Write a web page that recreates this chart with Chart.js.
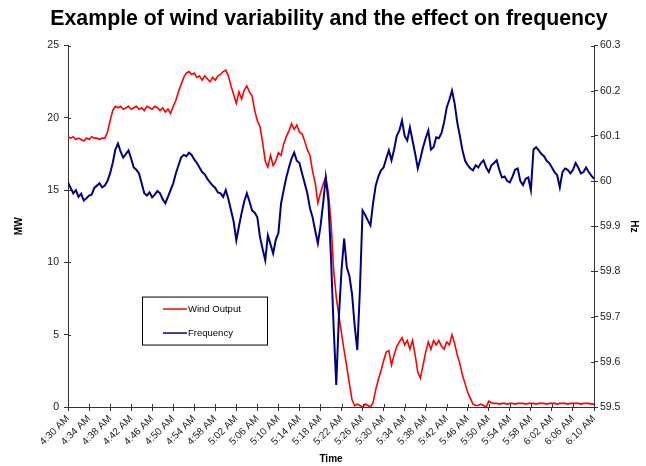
<!DOCTYPE html>
<html>
<head>
<meta charset="utf-8">
<script src="https://cdn.jsdelivr.net/npm/chart.js@4"></script>
<style>
  html, body { margin: 0; padding: 0; background: #fff; }
  #wrap { width: 646px; height: 466px; }
</style>
</head>
<body>
<div id="wrap"><canvas id="windChart"></canvas></div>
<script>
// one sample every 30 s from 4:30 AM to 6:10 AM
const tickLabels = ['4:30 AM','4:34 AM','4:38 AM','4:42 AM','4:46 AM','4:50 AM','4:54 AM','4:58 AM',
  '5:02 AM','5:06 AM','5:10 AM','5:14 AM','5:18 AM','5:22 AM','5:26 AM','5:30 AM','5:34 AM',
  '5:38 AM','5:42 AM','5:46 AM','5:50 AM','5:54 AM','5:58 AM','6:02 AM','6:06 AM','6:10 AM'];

const windMW = [
  18.7, 18.6, 18.7, 18.5, 18.6, 18.5, 18.4, 18.6, 18.5, 18.7,
  18.6, 18.6, 18.5, 18.6, 18.6, 19.0, 19.8, 20.5, 20.8, 20.7,
  20.8, 20.6, 20.7, 20.8, 20.6, 20.7, 20.8, 20.6, 20.7, 20.5,
  20.8, 20.7, 20.6, 20.8, 20.7, 20.5, 20.7, 20.4, 20.6, 20.3,
  20.8, 21.2, 21.8, 22.3, 22.8, 23.1, 23.2, 23.0, 23.1, 22.8,
  22.9, 22.6, 22.9, 22.7, 22.5, 22.8, 22.6, 22.9, 23.0, 23.2,
  23.3, 22.9, 22.2, 21.6, 21.0, 21.8, 21.3, 21.9, 22.2, 21.8,
  21.5, 20.5, 19.8, 19.4, 18.3, 17.0, 16.6, 17.4, 16.7, 17.0,
  17.6, 17.4, 18.2, 18.7, 19.1, 19.6, 19.2, 19.5, 19.0, 18.9,
  18.4, 17.8, 17.4, 16.3, 15.5, 14.1, 14.8, 15.4, 15.9, 14.8,
  12.8, 9.5, 7.6, 6.3, 5.1, 3.9, 2.8, 1.6, 0.5, 0.1,
  0.2, 0.1, 0.0, 0.2, 0.1, 0.0, 0.3, 1.2, 1.9, 2.5,
  3.2, 3.8, 3.9, 2.9, 3.6, 4.2, 4.5, 4.8, 4.3, 4.6,
  4.0, 4.6, 3.6, 2.4, 2.0, 2.9, 3.8, 4.5, 4.0, 4.6,
  4.3, 4.6, 4.2, 4.0, 4.5, 4.3, 5.0, 4.4, 3.6, 3.0,
  2.2, 1.6, 1.0, 0.6, 0.2, 0.1, 0.1, 0.2, 0.1, 0.0,
  0.4, 0.3, 0.25, 0.25, 0.2, 0.25, 0.25, 0.2, 0.25, 0.25,
  0.2, 0.25, 0.25, 0.25, 0.2, 0.25, 0.25, 0.25, 0.2, 0.25,
  0.25, 0.25, 0.2, 0.25, 0.25, 0.25, 0.2, 0.25, 0.25, 0.25,
  0.2, 0.25, 0.25, 0.25, 0.25, 0.2, 0.25, 0.25, 0.25, 0.2,
  0.2
];

const freqHz = [
  59.997, 59.985, 59.973, 59.98, 59.965, 59.972, 59.957, 59.962, 59.968, 59.97,
  59.985, 59.99, 59.995, 59.986, 59.99, 60.0, 60.017, 60.04, 60.07, 60.083,
  60.065, 60.052, 60.06, 60.068, 60.05, 60.03, 60.025, 60.017, 59.995, 59.973,
  59.968, 59.975, 59.964, 59.97, 59.978, 59.973, 59.96, 59.951, 59.965, 59.98,
  59.995, 60.017, 60.035, 60.052, 60.058, 60.055, 60.063, 60.058, 60.048, 60.04,
  60.03, 60.02, 60.015, 60.005, 59.997, 59.99, 59.985, 59.975, 59.973, 59.965,
  59.98, 59.96, 59.935, 59.91, 59.869, 59.9, 59.929, 59.955, 59.973, 59.955,
  59.935, 59.93, 59.92, 59.876, 59.85, 59.825, 59.88, 59.86, 59.84, 59.87,
  59.885, 59.95, 59.98, 60.008, 60.03, 60.05, 60.063, 60.045, 60.04, 60.017,
  59.995, 59.973, 59.94, 59.92, 59.89, 59.862, 59.9, 59.95, 60.008, 59.957,
  59.83, 59.677, 59.549, 59.7, 59.803, 59.873, 59.809, 59.79, 59.75, 59.68,
  59.626, 59.76, 59.935, 59.925, 59.913, 59.902, 59.951, 59.99, 60.01, 60.024,
  60.03, 60.05, 60.068, 60.046, 60.07, 60.1, 60.112, 60.134, 60.1, 60.09,
  60.119, 60.09, 60.061, 60.028, 60.05, 60.075, 60.095, 60.112, 60.07, 60.075,
  60.097, 60.095, 60.106, 60.13, 60.163, 60.18, 60.2, 60.172, 60.13, 60.1,
  60.068, 60.045, 60.035, 60.028, 60.024, 60.035, 60.03, 60.04, 60.046, 60.03,
  60.02, 60.035, 60.04, 60.046, 60.025, 60.008, 60.01, 60.0, 59.997, 60.01,
  60.025, 60.028, 60.0, 59.991, 60.005, 60.008, 59.98, 60.07, 60.075, 60.068,
  60.06, 60.055, 60.045, 60.04, 60.03, 60.02, 60.013, 59.986, 60.02, 60.028,
  60.025, 60.017, 60.025, 60.04, 60.03, 60.017, 60.02, 60.03, 60.02, 60.012,
  60.005
];

const FONT = "'Liberation Sans', Arial, sans-serif";
const toPoints = arr => arr.map((y, i) => ({ x: i * 0.5, y }));

// Excel style "cross" tick marks: add the short part inside the plot
const innerTicks = {
  id: 'innerTicks',
  afterDatasetsDraw(chart) {
    const { ctx, chartArea, scales } = chart;
    ctx.save();
    ctx.strokeStyle = '#333';
    ctx.lineWidth = 1;
    ctx.beginPath();
    scales.x.ticks.forEach((t, i) => {
      const px = Math.round(scales.x.getPixelForTick(i)) + 0.5;
      ctx.moveTo(px, chartArea.bottom);
      ctx.lineTo(px, chartArea.bottom - 3);
    });
    scales.y.ticks.forEach((t, i) => {
      const py = Math.round(scales.y.getPixelForTick(i)) + 0.5;
      ctx.moveTo(chartArea.left, py);
      ctx.lineTo(chartArea.left + 3, py);
    });
    scales.y1.ticks.forEach((t, i) => {
      const py = Math.round(scales.y1.getPixelForTick(i)) + 0.5;
      ctx.moveTo(chartArea.right, py);
      ctx.lineTo(chartArea.right - 3, py);
    });
    ctx.stroke();
    ctx.restore();
  }
};

// legend box drawn inside the plot, like the Excel original
const boxLegend = {
  id: 'boxLegend',
  afterDraw(chart) {
    const { ctx, chartArea } = chart;
    const x = chartArea.left + 74, y = chartArea.top + 251, w = 125, h = 48;
    ctx.save();
    ctx.fillStyle = '#fff';
    ctx.fillRect(x, y, w, h);
    ctx.strokeStyle = '#000';
    ctx.lineWidth = 1;
    ctx.strokeRect(x + 0.5, y + 0.5, w, h);
    ctx.font = '9.5px ' + FONT;
    ctx.textBaseline = 'middle';
    chart.data.datasets.forEach((ds, i) => {
      const ly = y + 12.5 + i * 24;
      ctx.strokeStyle = ds.borderColor;
      ctx.lineWidth = 1.5;
      ctx.beginPath();
      ctx.moveTo(x + 21, ly);
      ctx.lineTo(x + 45, ly);
      ctx.stroke();
      ctx.fillStyle = '#000';
      ctx.fillText(ds.label, x + 46, ly + 0.5);
    });
    ctx.restore();
  }
};

new Chart(document.getElementById('windChart'), {
  type: 'line',
  data: {
    datasets: [
      {
        label: 'Wind Output',
        data: toPoints(windMW),
        borderColor: '#ff0000',
        borderWidth: 1.6,
        pointRadius: 0,
        yAxisID: 'y',
        order: 2
      },
      {
        label: 'Frequency',
        data: toPoints(freqHz),
        borderColor: '#000080',
        borderWidth: 2,
        pointRadius: 0,
        yAxisID: 'y1',
        order: 1
      }
    ]
  },
  options: {
    responsive: true,
    maintainAspectRatio: false,
    animation: false,
    layout: { padding: { left: 12, right: 0, top: 0, bottom: 0 } },
    plugins: {
      legend: { display: false },
      tooltip: { enabled: false },
      title: {
        display: true,
        text: 'Example of wind variability and the effect on frequency',
        color: '#000',
        font: { family: FONT, size: 21.3, weight: 'bold', lineHeight: 1.2 },
        padding: { top: 6, bottom: 14 }
      }
    },
    scales: {
      x: {
        type: 'linear',
        min: 0,
        max: 100,
        afterFit: s => { s.height = 59; },
        border: { color: '#333', width: 1 },
        grid: { drawOnChartArea: false, tickLength: 4, color: '#333' },
        ticks: {
          stepSize: 4,
          autoSkip: false,
          minRotation: 45,
          maxRotation: 45,
          padding: 2,
          color: '#222',
          font: { family: FONT, size: 10 },
          callback: (v, i) => tickLabels[i]
        },
        title: {
          display: true,
          text: 'Time',
          color: '#000',
          font: { family: FONT, size: 10, weight: 'bold' },
          padding: { top: 0, bottom: 1 }
        }
      },
      y: {
        position: 'left',
        min: 0,
        max: 25,
        afterFit: s => { s.width = 56; },
        border: { color: '#333', width: 1 },
        grid: { drawOnChartArea: false, tickLength: 4, color: '#333' },
        ticks: {
          stepSize: 5,
          padding: 5,
          color: '#222',
          font: { family: FONT, size: 10.5 }
        },
        title: {
          display: true,
          text: 'MW',
          color: '#000',
          font: { family: FONT, size: 10, weight: 'bold' },
          padding: { top: 1, bottom: 0 }
        }
      },
      y1: {
        position: 'right',
        min: 59.5,
        max: 60.3,
        afterFit: s => { s.width = 52; },
        border: { color: '#333', width: 1 },
        grid: { drawOnChartArea: false, tickLength: 4, color: '#333' },
        ticks: {
          stepSize: 0.1,
          padding: 2,
          color: '#222',
          font: { family: FONT, size: 10.5 },
          callback: v => String(Number(v.toFixed(1)))
        },
        title: {
          display: true,
          text: 'Hz',
          color: '#000',
          font: { family: FONT, size: 10, weight: 'bold' },
          padding: { top: 6, bottom: 0 }
        }
      }
    }
  },
  plugins: [innerTicks, boxLegend]
});
</script>
</body>
</html>
